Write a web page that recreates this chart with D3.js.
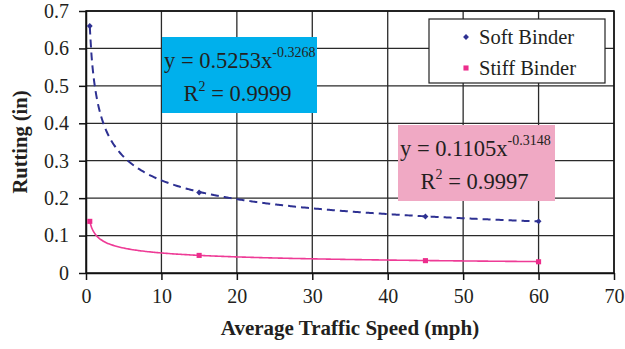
<!DOCTYPE html>
<html>
<head>
<meta charset="utf-8">
<script src="https://cdn.jsdelivr.net/npm/d3@7"></script>
<style>
  body { margin: 0; background: #fff; }
  text { font-family: "Liberation Serif", "Times New Roman", serif; fill: #231f20; }
</style>
</head>
<body>
<div id="chart"></div>
<script>
// data
var speeds = [0.5, 15, 45, 60];
var softRutting = [0.66, 0.215, 0.151, 0.138];
var stiffRutting = [0.138, 0.047, 0.033, 0.030];
var xTicks = [0, 10, 20, 30, 40, 50, 60, 70];
var yTicks = [0, 0.1, 0.2, 0.3, 0.4, 0.5, 0.6, 0.7];
var seriesNames = ["Soft Binder", "Stiff Binder"];
// power trendlines printed on the chart: y = a * x^b
var softFit = [0.5253, -0.3268, "0.9999"];
var stiffFit = [0.1105, -0.3148, "0.9997"];

var svgWidth = 625;
var svgHeight = 349;
var margin = {top: 11, right: 11, bottom: 76, left: 86};
var width = svgWidth - margin.left - margin.right;
var height = svgHeight - margin.top - margin.bottom;

var svg = d3.select("#chart")
  .append("svg")
  .attr("width", svgWidth)
  .attr("height", svgHeight);

var chartGroup = svg.append("g")
  .attr("transform", `translate(${margin.left}, ${margin.top})`);

var x = d3.scaleLinear().domain([0, 70]).range([0, width]);
var y = d3.scaleLinear().domain([0, 0.7]).range([height, 0]);

// gridlines
chartGroup.selectAll(".hgrid")
  .data(yTicks.slice(1))
  .enter()
  .append("line")
  .attr("x1", 0).attr("x2", width)
  .attr("y1", d => y(d)).attr("y2", d => y(d))
  .attr("stroke", "#2a2a2a")
  .attr("stroke-width", 1.3);

chartGroup.selectAll(".vgrid")
  .data(xTicks.slice(1))
  .enter()
  .append("line")
  .attr("x1", d => x(d)).attr("x2", d => x(d))
  .attr("y1", 0).attr("y2", height)
  .attr("stroke", "#2a2a2a")
  .attr("stroke-width", 1.3);

chartGroup.append("rect")
  .attr("width", width).attr("height", height)
  .attr("fill", "none")
  .attr("stroke", "#111")
  .attr("stroke-width", 1.5);

// axes
var bottomAxis = d3.axisBottom(x).tickValues(xTicks).tickSize(7).tickSizeOuter(0).tickPadding(9);
var leftAxis = d3.axisLeft(y).tickValues(yTicks).tickSize(7).tickSizeOuter(0).tickPadding(10)
  .tickFormat(d => d === 0 ? "0" : d3.format(".1f")(d));

var xAxisG = chartGroup.append("g")
  .attr("transform", `translate(0, ${height})`)
  .call(bottomAxis);
var yAxisG = chartGroup.append("g").call(leftAxis);

[xAxisG, yAxisG].forEach(function(g) {
  g.select(".domain").attr("stroke", "#111").attr("stroke-width", 1.5);
  g.selectAll(".tick line").attr("stroke", "#111").attr("stroke-width", 1.5);
  g.selectAll(".tick text")
    .attr("font-family", "Liberation Serif, Times New Roman, serif")
    .attr("font-size", "20px")
    .attr("fill", "#231f20");
});

// trendlines
function trendPoints(fit) {
  var pts = [];
  for (var v = speeds[0]; v <= speeds[speeds.length - 1] + 1e-9; v += 0.25) {
    pts.push([v, fit[0] * Math.pow(v, fit[1])]);
  }
  return pts;
}

var trendLine = d3.line()
  .x(d => x(d[0]))
  .y(d => y(d[1]))
  .curve(d3.curveMonotoneX);

chartGroup.append("path")
  .attr("d", trendLine(trendPoints(softFit)))
  .attr("fill", "none")
  .attr("stroke", "#2e3192")
  .attr("stroke-width", 2)
  .attr("stroke-dasharray", "8,5");

chartGroup.append("path")
  .attr("d", trendLine(trendPoints(stiffFit)))
  .attr("fill", "none")
  .attr("stroke", "#ee3b96")
  .attr("stroke-width", 1.6);

// markers
var diamond = d3.symbol().type(d3.symbolDiamond2).size(22);
var square = d3.symbol().type(d3.symbolSquare).size(26);

chartGroup.selectAll(".soft")
  .data(speeds)
  .enter()
  .append("path")
  .attr("d", diamond)
  .attr("transform", (d, i) => `translate(${x(d)}, ${y(softRutting[i])})`)
  .attr("fill", "#2e3192");

chartGroup.selectAll(".stiff")
  .data(speeds)
  .enter()
  .append("path")
  .attr("d", square)
  .attr("transform", (d, i) => `translate(${x(d)}, ${y(stiffRutting[i])})`)
  .attr("fill", "#ec2d8c");

// equation boxes
function equationBox(fit, bx, by, bw, bh, color) {
  var g = svg.append("g").attr("transform", `translate(${bx}, ${by})`);
  g.append("rect").attr("width", bw).attr("height", bh).attr("fill", color);
  var t1 = g.append("text").attr("x", 2).attr("y", 31).attr("font-size", "22.5px");
  t1.append("tspan").text("y = " + fit[0].toFixed(4) + "x");
  t1.append("tspan").attr("dy", -11).attr("font-size", "14px").text(fit[1].toFixed(4));
  var t2 = g.append("text").attr("x", bw / 2 - 2).attr("y", 64).attr("font-size", "22.5px")
    .attr("text-anchor", "middle");
  t2.append("tspan").text("R");
  t2.append("tspan").attr("dy", -10).attr("font-size", "14px").text("2");
  t2.append("tspan").attr("dy", 10).text(" = " + fit[2]);
}

equationBox(softFit, 162, 37, 155, 76, "#00b0ec");
equationBox(stiffFit, 398, 125, 157, 76, "#f0a9c4");

// legend
var legend = svg.append("g").attr("transform", "translate(429, 19)");
legend.append("rect")
  .attr("width", 176).attr("height", 64)
  .attr("fill", "#fff")
  .attr("stroke", "#222")
  .attr("stroke-width", 1.2);
legend.append("path").attr("d", diamond).attr("transform", "translate(37, 18)").attr("fill", "#2e3192");
legend.append("path").attr("d", square).attr("transform", "translate(37, 49)").attr("fill", "#ec2d8c");
legend.selectAll(".ltext")
  .data(seriesNames)
  .enter()
  .append("text")
  .attr("x", 50)
  .attr("y", (d, i) => 25 + i * 31)
  .attr("font-size", "20.5px")
  .text(d => d);

// axis titles
svg.append("text")
  .attr("x", margin.left + width / 2)
  .attr("y", 335)
  .attr("text-anchor", "middle")
  .attr("font-size", "21px")
  .attr("font-weight", "bold")
  .text("Average Traffic Speed (mph)");

svg.append("text")
  .attr("transform", `translate(27, ${margin.top + height / 2}) rotate(-90)`)
  .attr("text-anchor", "middle")
  .attr("font-size", "20.5px")
  .attr("font-weight", "bold")
  .text("Rutting (in)");
</script>
</body>
</html>
